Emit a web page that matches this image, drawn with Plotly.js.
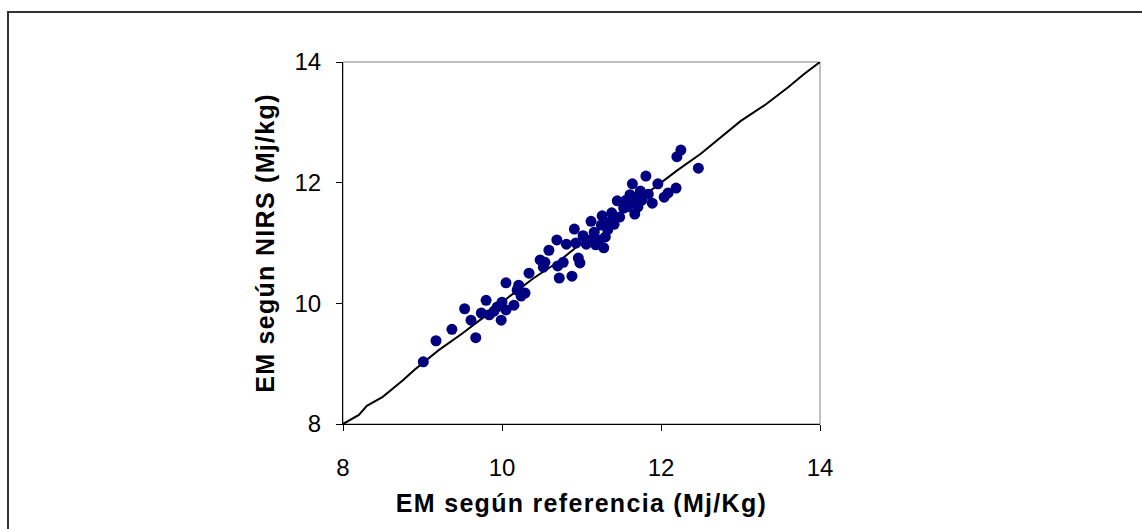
<!DOCTYPE html>
<html>
<head>
<meta charset="utf-8">
<script src="https://cdn.plot.ly/plotly-3.0.1.min.js"></script>
<style>html,body{margin:0;padding:0;background:#fff;}#chart{width:1142px;height:529px;}
.xtitle,.ytitle{letter-spacing:1.3px;}</style>
</head>
<body>
<div id="chart"></div>
<script>
// Observed points: EM by reference (x) vs EM by NIRS (y)
const refX = [9.01,9.17,9.37,9.53,9.61,9.67,9.74,9.80,9.84,9.90,9.94,9.99,10.00,10.05,10.05,10.15,10.19,10.21,10.24,10.29,
  10.34,10.48,10.52,10.54,10.59,10.69,10.70,10.72,10.77,10.81,10.88,10.91,10.93,10.96,10.98,11.02,11.06,11.11,11.12,11.16,
  11.18,11.22,11.25,11.26,11.28,11.30,11.33,11.36,11.38,11.41,11.45,11.48,11.53,11.56,11.58,11.61,11.64,11.65,11.67,11.69,
  11.71,11.74,11.76,11.81,11.84,11.89,11.96,12.04,12.09,12.19,12.20,12.25,12.47];
const nirsY = [9.03,9.38,9.57,9.91,9.72,9.43,9.84,10.05,9.81,9.87,9.94,9.72,10.02,9.89,10.34,9.97,10.22,10.30,10.12,10.17,
  10.50,10.72,10.60,10.68,10.88,11.05,10.62,10.42,10.68,10.98,10.45,11.23,11.00,10.75,10.67,11.12,10.98,11.05,11.36,11.18,
  10.97,11.05,11.30,11.45,10.92,11.10,11.22,11.35,11.50,11.31,11.70,11.43,11.58,11.71,11.60,11.80,11.98,11.68,11.48,11.76,
  11.60,11.86,11.71,12.11,11.81,11.66,11.98,11.76,11.83,11.91,12.43,12.54,12.24];
// Fitted line
const lineX = [8.0,8.2,8.3,8.5,8.75,8.9,9.2,9.5,9.8,10.1,10.4,10.7,11.0,11.3,11.6,11.9,12.2,12.5,12.8,13.0,13.3,13.6,13.8,14.0];
const lineY = [8.0,8.15,8.3,8.45,8.72,8.9,9.22,9.5,9.8,10.12,10.42,10.68,11.0,11.3,11.6,11.9,12.2,12.48,12.8,13.02,13.28,13.58,13.8,14.0];
const xTicks = [8,10,12,14];
const yTicks = [8,10,12,14];

const font = "Liberation Sans, Arial, sans-serif";
const data = [
  {x: lineX, y: lineY, mode: 'lines', type: 'scatter', line: {color: '#000', width: 2}, hoverinfo: 'skip'},
  {x: refX, y: nirsY, mode: 'markers', type: 'scatter', marker: {color: '#000080', size: 11}}
];
const layout = {
  width: 1142, height: 529,
  margin: {l: 343, r: 322, t: 62, b: 105},
  paper_bgcolor: '#fff', plot_bgcolor: '#fff',
  showlegend: false,
  font: {family: font, color: '#000', size: 24},
  xaxis: {
    range: [8, 14], tickvals: xTicks, ticktext: xTicks.map(String),
    showgrid: false, zeroline: false, showline: true, linecolor: '#000', linewidth: 1,
    ticks: 'outside', ticklen: 6, tickcolor: '#000', ticklabelstandoff: 16,
    tickfont: {size: 24, family: font},
    title: {text: '<b>EM según referencia (Mj/Kg)</b>', font: {size: 25, family: font}, standoff: 14}
  },
  yaxis: {
    range: [8, 14], tickvals: yTicks, ticktext: yTicks.map(String),
    showgrid: false, zeroline: false, showline: true, linecolor: '#000', linewidth: 1,
    ticks: 'outside', ticklen: 6, tickcolor: '#000', ticklabelstandoff: 10,
    tickfont: {size: 24, family: font},
    title: {text: '<b>EM según NIRS (Mj/kg)</b>', font: {size: 25, family: font}, standoff: 12}
  },
  shapes: [
    {type: 'rect', xref: 'paper', yref: 'paper', x0: 0, x1: 1, y0: 0, y1: 1, line: {color: '#808080', width: 1}, layer: 'below'},
    {type: 'rect', xref: 'paper', yref: 'paper', x0: -343/477 + 8/477, x1: 1.9, y0: -0.5, y1: 1 + 50/362, line: {color: '#333', width: 2}}
  ]
};
Plotly.newPlot('chart', data, layout, {staticPlot: true});
</script>
</body>
</html>
